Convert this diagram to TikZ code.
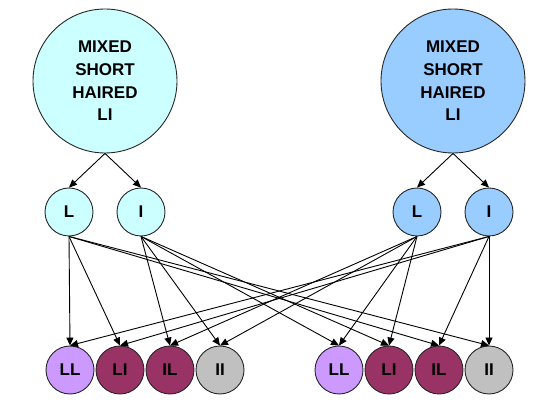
\documentclass[tikz,border=0pt]{standalone}
\usepackage{fontspec}
\setmainfont{Liberation Sans}
\usetikzlibrary{arrows.meta}
\definecolor{ccyan}{HTML}{CCFFFF}
\definecolor{cblue}{HTML}{99CCFF}
\definecolor{clilac}{HTML}{CC99FF}
\definecolor{cplum}{HTML}{993366}
\definecolor{cgrey}{HTML}{C0C0C0}
\tikzset{
  every picture/.style={font=\bfseries\fontsize{17}{22.7}\selectfont, line width=0.9pt},
  ball/.style={circle, draw=black!85, fill=#1, inner sep=0pt, minimum size=48pt, align=center},
  ball/.default=ccyan,
  parent/.style={ball=#1, minimum size=144pt},
  link/.style={-{Triangle[length=8pt, width=7pt]}, draw=black, line width=0.9pt},
}

\begin{document}
\begin{tikzpicture}[x=1pt, y=-1pt]
  \useasboundingbox (0,0) rectangle (547,406);
  \node[parent=ccyan] (pa) at (105,81) {MIXED\\SHORT\\HAIRED\\LI};
  \node[parent=cblue] (pb) at (453,81) {MIXED\\SHORT\\HAIRED\\LI};
  \node[ball=ccyan] (la) at (69,212) {L};
  \node[ball=ccyan] (ia) at (141,212) {I};
  \node[ball=cblue] (lb) at (417,212) {L};
  \node[ball=cblue] (ib) at (489,212) {I};
  \foreach \g in {la,ia} \draw[link] (pa.south) -- (\g.north);
  \foreach \g in {lb,ib} \draw[link] (pb.south) -- (\g.north);
  % offspring
  \foreach \t/\c [count=\k] in {LL/clilac, LI/cplum, IL/cplum, II/cgrey} {
    \node[ball=\c] (a\k) at (20+50*\k,370) {\t};
    \node[ball=\c] (b\k) at (289+50*\k,370) {\t};
  }
  % crossing
  \foreach \s/\t in {la/a1, la/a2, la/b3, la/b4, ia/a3, ia/a4, ia/b1, ia/b2,
    lb/b1, lb/b2, lb/a3, lb/a4, ib/b3, ib/b4, ib/a1, ib/a2}
    \draw[link] (\s.south) -- (\t.north);
\end{tikzpicture}
\end{document}
